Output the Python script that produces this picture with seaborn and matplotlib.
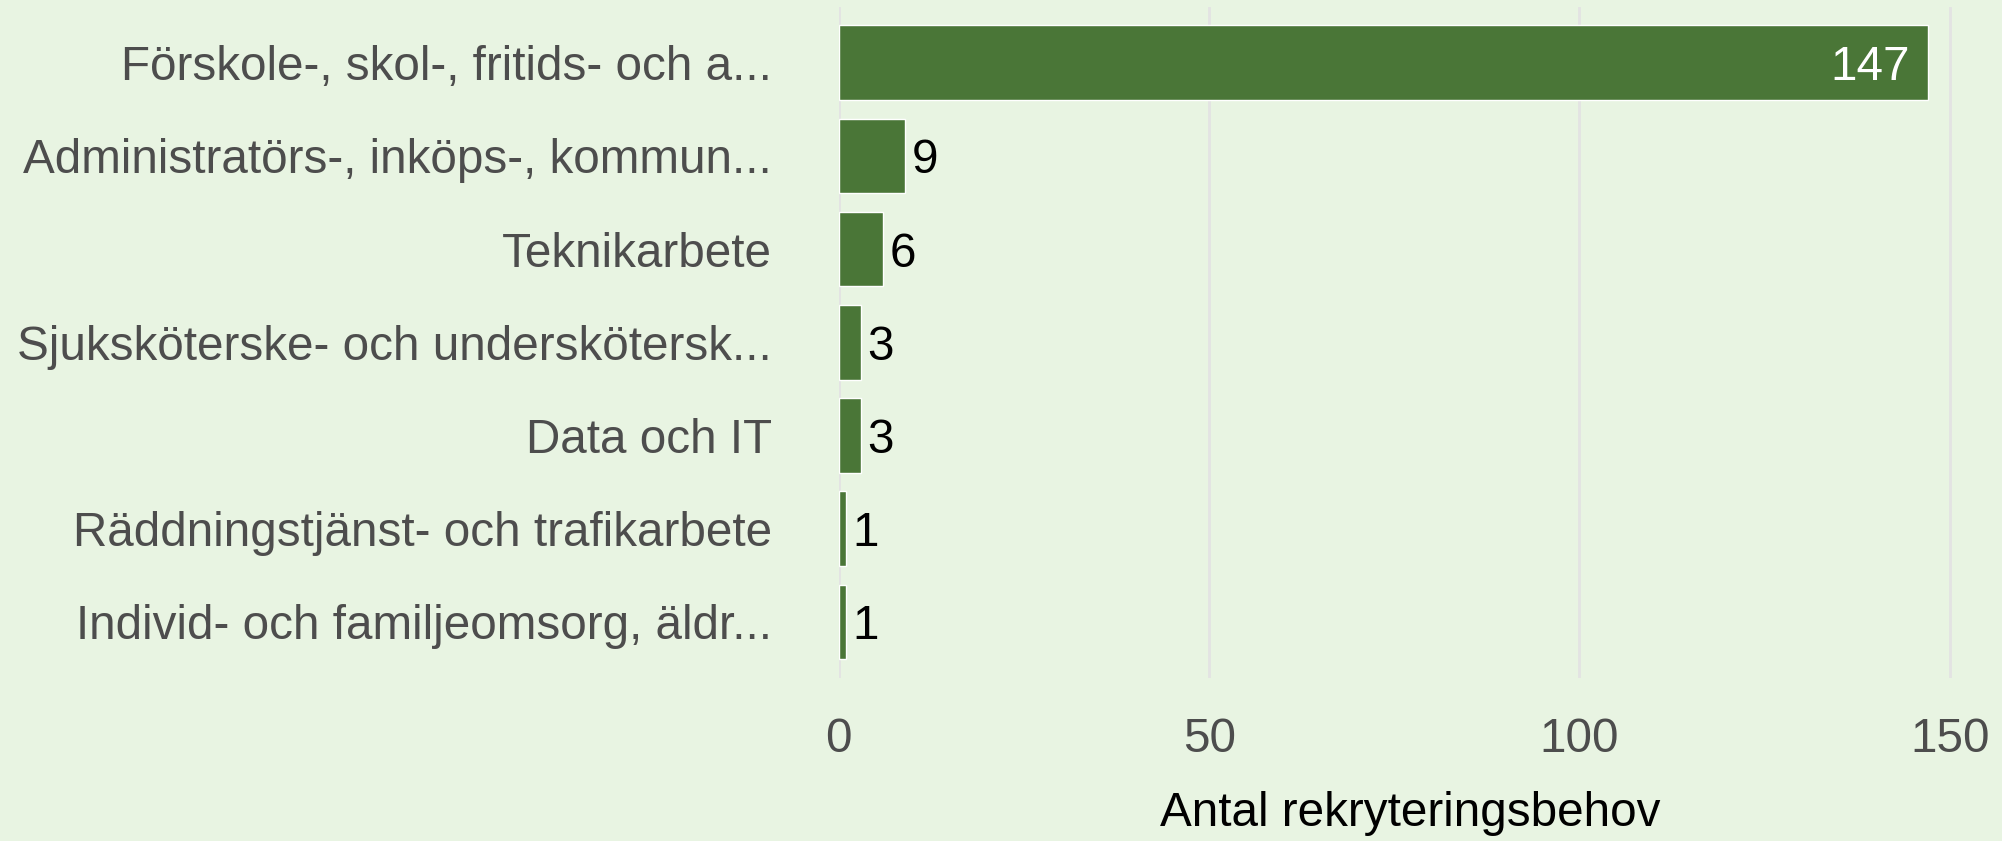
import pandas as pd
import seaborn as sns
import matplotlib.pyplot as plt

# Data
categories = [
    "Förskole-, skol-, fritids- och a...",
    "Administratörs-, inköps-, kommun...",
    "Teknikarbete",
    "Sjuksköterske- och underskötersk...",
    "Data och IT",
    "Räddningstjänst- och trafikarbete",
    "Individ- och familjeomsorg, äldr...",
]
values = [147, 9, 6, 3, 3, 1, 1]

df = pd.DataFrame({"yrke": categories, "antal": values})

bg = "#e8f4e2"
bar_color = "#4a7637"

sns.set_theme(style="whitegrid")
plt.rcParams["font.family"] = ["Liberation Sans", "DejaVu Sans"]

fig = plt.figure(figsize=(20.02, 8.41), dpi=100, facecolor=bg)
ax = fig.add_axes([0.419, 0.194, 0.571, 0.798])
ax.set_facecolor(bg)

sns.barplot(data=df, x="antal", y="yrke", orient="h", color=bar_color,
            saturation=1, width=0.8, ax=ax)

ax.set_xlim(0, 154.35)
ax.set_ylim(6.6, -0.6)
ax.set_xticks([0, 50, 100, 150])
ax.grid(axis="x", color="#e3e3e3", linewidth=2)
ax.grid(axis="y", visible=False)
for s in ax.spines.values():
    s.set_visible(False)

fs = 34.3
ax.tick_params(axis="y", labelsize=fs, labelcolor="#4d4d4d", pad=48, length=0)
ax.tick_params(axis="x", labelsize=fs, labelcolor="#4d4d4d", pad=28, length=0)
ax.set_ylabel("")
ax.set_xlabel("Antal rekryteringsbehov", fontsize=fs, color="black", labelpad=21)

# value labels: inside for the big bar, outside for the rest
bars = ax.containers[0]
for rect, v in zip(bars, values):
    y = rect.get_y() + rect.get_height() / 2
    if v > 100:
        ax.text(v - 2.4, y, str(v), ha="right", va="center_baseline", color="white", fontsize=fs)
    else:
        ax.text(v + 0.8, y, str(v), ha="left", va="center_baseline", color="black", fontsize=fs)

fig.savefig("out.png", dpi=100, facecolor=bg)
